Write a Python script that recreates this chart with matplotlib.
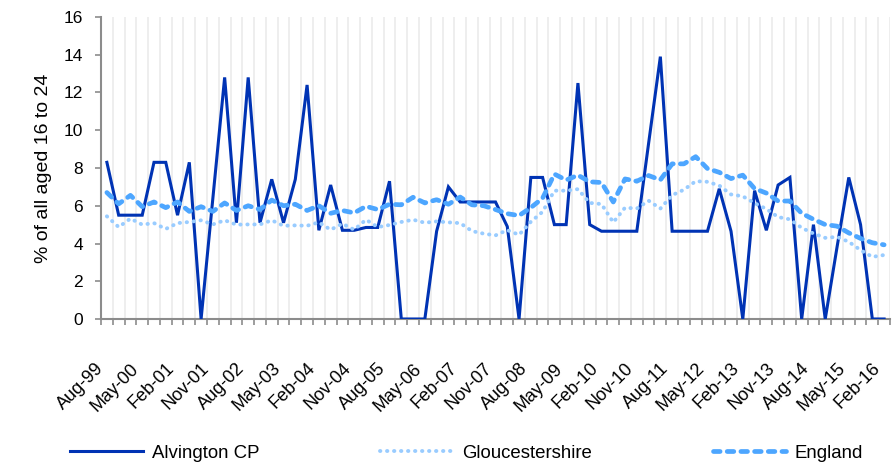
import matplotlib
matplotlib.use("Agg")
import matplotlib.pyplot as plt
import matplotlib.transforms as mtransforms
import numpy as np

# quarterly series, Aug-99 .. Feb-16
alvington = [8.3, 5.5, 5.5, 5.5, 8.3, 8.3, 5.5, 8.3, 0, 6.4,
             12.8, 5.1, 12.8, 5.1, 7.4, 5.1, 7.4, 12.4, 4.7, 7.1,
             4.7, 4.7, 4.85, 4.85, 7.3, 0, 0, 0, 4.65, 7.0,
             6.2, 6.2, 6.2, 6.2, 4.9, 0, 7.5, 7.5, 5.0, 5.0,
             12.5, 5.0, 4.65, 4.65, 4.65, 4.65, 9.3, 13.9, 4.65, 4.65,
             4.65, 4.65, 6.9, 4.65, 0, 6.8, 4.7, 7.1, 7.5, 0,
             5.0, 0, 3.8, 7.5, 5.0, 0, 0]
gloucestershire = [5.44, 4.87, 5.32, 5.0, 5.08, 4.77, 5.08, 5.14, 5.23, 5.01,
                   5.23, 5.0, 5.01, 5.01, 5.23, 4.94, 4.96, 4.94, 5.12, 4.73,
                   5.05, 4.73, 5.26, 4.87, 4.98, 5.14, 5.26, 5.1, 5.17, 5.12,
                   5.08, 4.66, 4.52, 4.43, 4.71, 4.46, 5.15, 5.68, 6.8, 6.8,
                   6.88, 6.15, 6.09, 5.12, 5.9, 5.85, 6.27, 5.85, 6.56, 6.85,
                   7.3, 7.27, 7.07, 6.6, 6.5, 6.14, 5.83, 5.4, 5.28, 4.83,
                   4.53, 4.3, 4.35, 4.09, 3.65, 3.29, 3.39]
england = [6.7, 6.1, 6.55, 5.95, 6.2, 5.9, 6.2, 5.7, 5.95, 5.7,
           6.15, 5.75, 6.0, 5.8, 6.3, 6.0, 6.08, 5.75, 6.0, 5.6,
           5.75, 5.62, 5.97, 5.8, 6.08, 6.05, 6.45, 6.15, 6.32, 6.08,
           6.46, 6.05, 6.0, 5.8, 5.58, 5.48, 5.9, 6.4, 7.68, 7.36,
           7.62, 7.27, 7.23, 6.2, 7.42, 7.3, 7.6, 7.37, 8.22, 8.22,
           8.6, 7.97, 7.77, 7.44, 7.62, 6.91, 6.67, 6.25, 6.25, 5.6,
           5.28, 5.0, 4.92, 4.56, 4.27, 4.04, 3.93]
tick_labels = ["Aug-99", "May-00", "Feb-01", "Nov-01", "Aug-02", "May-03",
               "Feb-04", "Nov-04", "Aug-05", "May-06", "Feb-07", "Nov-07",
               "Aug-08", "May-09", "Feb-10", "Nov-10", "Aug-11", "May-12",
               "Feb-13", "Nov-13", "Aug-14", "May-15", "Feb-16"]
label_step = 3

plt.rcParams['font.family'] = ['Liberation Sans', 'DejaVu Sans']

n = len(alvington)
x = np.arange(n)

fig = plt.figure(figsize=(8.93, 4.65), dpi=100)
ax = fig.add_axes([101 / 893, 1 - 319 / 465, 789 / 893, 302 / 465])

grey = '#8c8c8c'
ax.vlines(np.arange(-0.5, n, 1), 0, 16, color='#ebebeb', lw=1.2, zorder=0)

ax.plot(x, alvington, color='#0033b4', lw=2.2, solid_joinstyle='miter',
        label='Alvington CP', zorder=3)
ax.plot(x, gloucestershire, color='#99ccff', lw=2.8, dashes=(0.1, 1.7),
        dash_capstyle='round', label='Gloucestershire', zorder=4)
ax.plot(x, england, color='#4da6ff', lw=3.4, dashes=(1.4, 1.5),
        dash_capstyle='round', label='England', zorder=5)

ax.set_xlim(-0.5, n - 0.5)
ax.set_ylim(0, 16)
ax.set_yticks(np.arange(0, 17, 2))
ax.tick_params(axis='y', direction='out', length=4, width=1.2, color=grey,
               pad=9, labelsize=12.5)

# category boundary ticks; the date labels are placed as plain text
ax.set_xticks(np.arange(-0.5, n, 1))
ax.set_xticklabels([])
ax.tick_params(axis='x', which='major', direction='out', length=4, width=1.2, color=grey)
base = mtransforms.blended_transform_factory(ax.transData, ax.transAxes)
shift = mtransforms.ScaledTranslation(-0.06, -0.47, fig.dpi_scale_trans)
for xi, lab in zip(x[::label_step], tick_labels):
    ax.text(xi, 0, lab, transform=base + shift, rotation=45, ha='right',
            va='center', rotation_mode='anchor', fontsize=13, clip_on=False)

for side in ['top', 'right']:
    ax.spines[side].set_visible(False)
for side in ['left', 'bottom']:
    ax.spines[side].set_color(grey)
    ax.spines[side].set_linewidth(1.5)

ax.set_ylabel('% of all aged 16 to 24', fontsize=14, labelpad=8)

fig.legend(loc='center left', bbox_to_anchor=(70 / 893, 1 - 453 / 465),
           ncol=3, frameon=False, fontsize=13.4, handlelength=3.9,
           handletextpad=0.5, columnspacing=6.5, borderpad=0, borderaxespad=0)

fig.savefig('out.png', dpi=100, facecolor='white')
